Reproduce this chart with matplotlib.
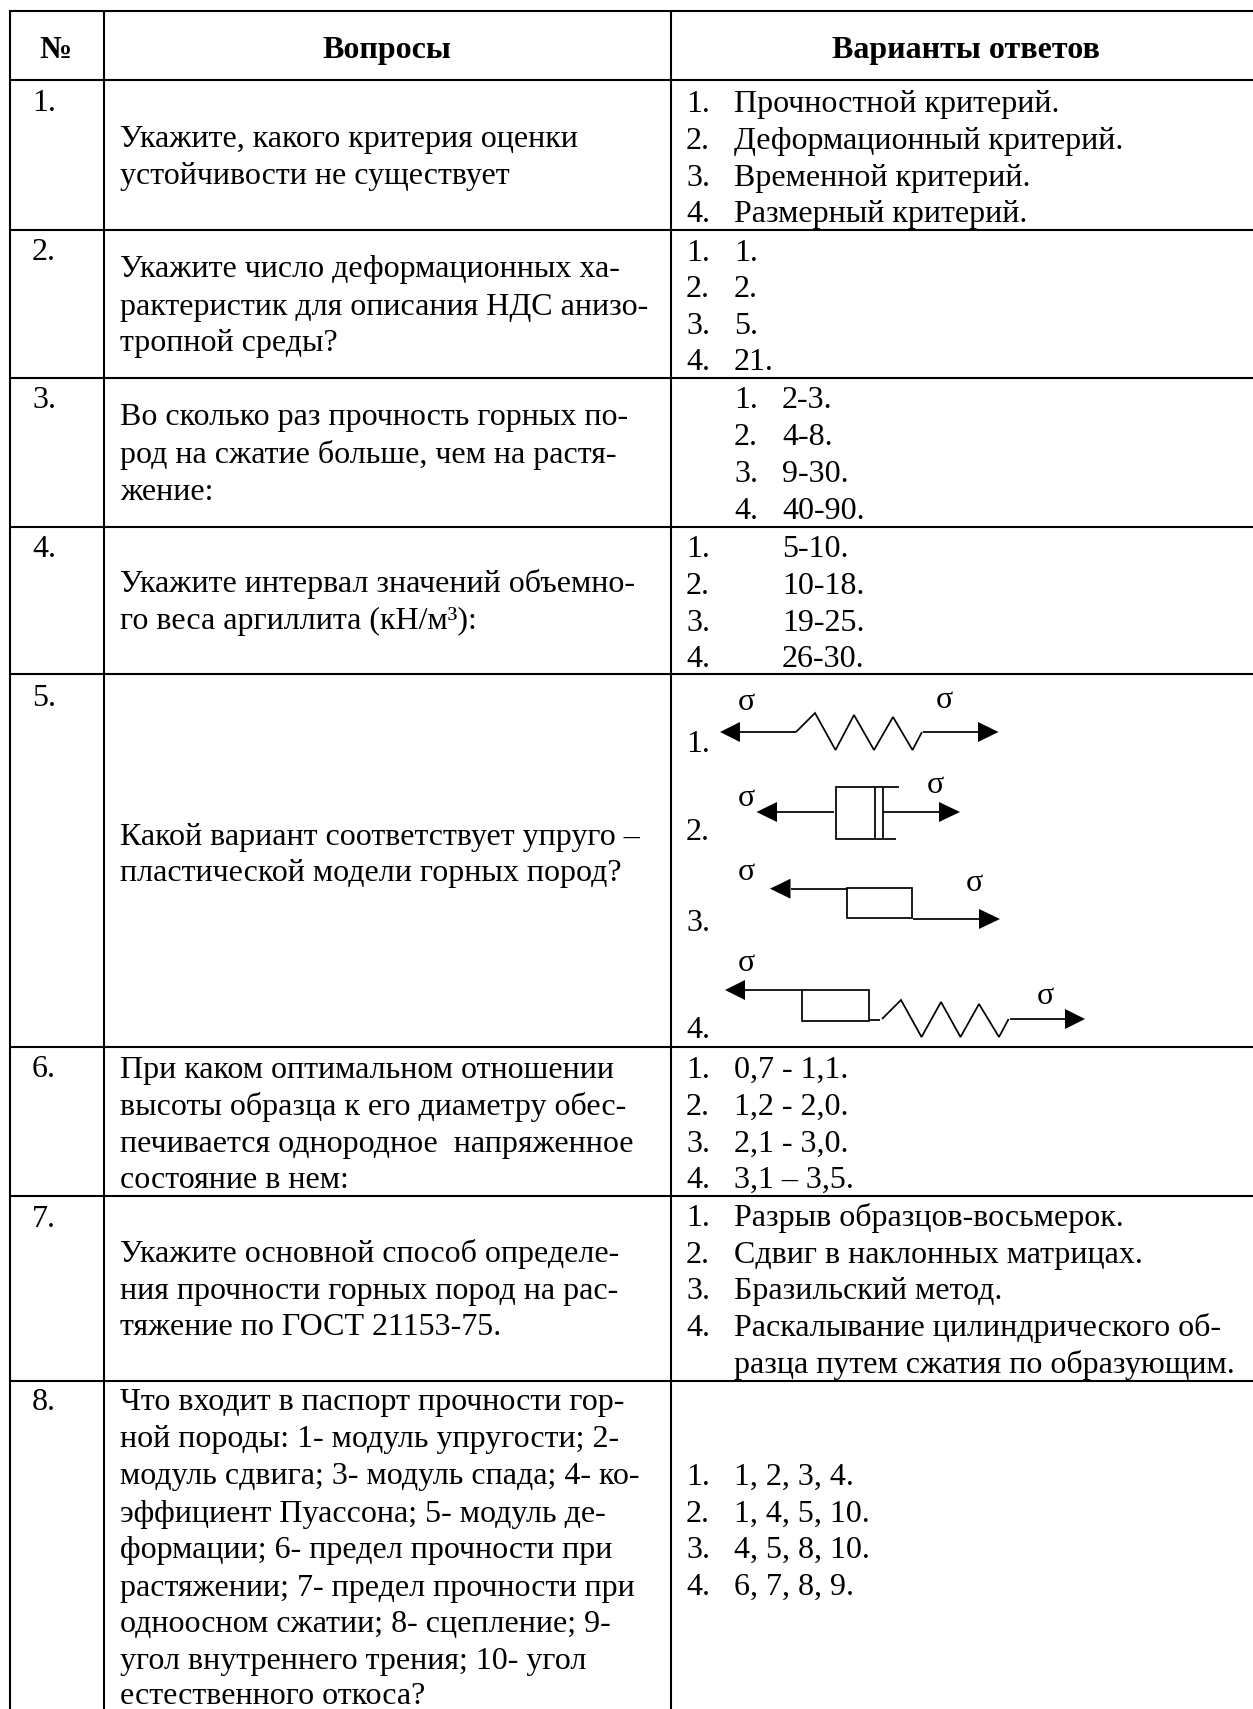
import matplotlib
matplotlib.use("Agg")
import matplotlib.pyplot as plt
from matplotlib.patches import Polygon, Rectangle

W, H = 1253, 1709
FS = 23
INK = "black"

# table grid, in pixels of the page
col_lines = [10, 104, 671]
row_lines = [11, 80, 230, 378, 527, 674, 1047, 1196, 1381]

headers = ["№", "Вопросы", "Варианты ответов"]
header_x = [55.5, 387, 966]

numbers = ["1.", "2.", "3.", "4.", "5.", "6.", "7.", "8."]
number_y = [111, 260, 408, 557, 706, 1077, 1227, 1410]

questions = [
    ["Укажите, какого критерия оценки", "устойчивости не существует"],
    ["Укажите число деформационных ха-", "рактеристик для описания НДС анизо-", "тропной среды?"],
    ["Во сколько раз прочность горных по-", "род на сжатие больше, чем на растя-", "жение:"],
    ["Укажите интервал значений объемно-", "го веса аргиллита (кН/м³):"],
    ["Какой вариант соответствует упруго –", "пластической модели горных пород?"],
    ["При каком оптимальном отношении", "высоты образца к его диаметру обес-", "печивается однородное  напряженное", "состояние в нем:"],
    ["Укажите основной способ определе-", "ния прочности горных пород на рас-", "тяжение по ГОСТ 21153-75."],
    ["Что входит в паспорт прочности гор-", "ной породы: 1- модуль упругости; 2-", "модуль сдвига; 3- модуль спада; 4- ко-",
     "эффициент Пуассона; 5- модуль де-", "формации; 6- предел прочности при", "растяжении; 7- предел прочности при",
     "одноосном сжатии; 8- сцепление; 9-", "угол внутреннего трения; 10- угол", "естественного откоса?"],
]
question_y = [
    [147, 184],
    [277, 315, 351],
    [425, 463, 500],
    [592, 629],
    [845, 881],
    [1078, 1115, 1152, 1188],
    [1262, 1299, 1335],
    [1410, 1447, 1484, 1522, 1558, 1596, 1632, 1669, 1704],
]

answers = {
    0: ["Прочностной критерий.", "Деформационный критерий.", "Временной критерий.", "Размерный критерий."],
    1: ["1.", "2.", "5.", "21."],
    2: ["2-3.", "4-8.", "9-30.", "40-90."],
    3: ["5-10.", "10-18.", "19-25.", "26-30."],
    5: ["0,7 - 1,1.", "1,2 - 2,0.", "2,1 - 3,0.", "3,1 – 3,5."],
    6: ["Разрыв образцов-восьмерок.", "Сдвиг в наклонных матрицах.", "Бразильский метод.",
        "Раскалывание цилиндрического об-", "разца путем сжатия по образующим."],
    7: ["1, 2, 3, 4.", "1, 4, 5, 10.", "4, 5, 8, 10.", "6, 7, 8, 9."],
}
answer_y = {
    0: [112, 149, 186, 222],
    1: [261, 297, 334, 370],
    2: [408, 445, 482, 519],
    3: [557, 594, 631, 667],
    5: [1078, 1115, 1152, 1188],
    6: [1226, 1263, 1299, 1336, 1373],
    7: [1485, 1522, 1558, 1595],
}
answer_num_x = {0: 686, 1: 686, 2: 734, 3: 686, 5: 686, 6: 686, 7: 686}
answer_text_x = {0: 734, 1: 734, 2: 782, 3: 782, 5: 734, 6: 734, 7: 734}

# pictures of row 5
sigma_labels = [(746, 710), (944, 708), (746, 806), (935, 793), (746, 880), (974, 891), (746, 971), (1045, 1004)]
diagram_nums = [("1.", 752), ("2.", 840), ("3.", 931), ("4.", 1038)]


def put(ax, x, y, s, **kw):
    ax.text(x, y, s, fontsize=kw.pop("fontsize", FS), va="baseline", color=INK, **kw)


def line(ax, xs, ys, lw=1.25):
    ax.plot(xs, ys, color="black", lw=lw, solid_capstyle="butt", solid_joinstyle="miter")


def arrow(ax, tip, base, y):
    ax.add_patch(Polygon([(tip, y), (base, y - 10), (base, y + 10)], closed=True, fc="black", ec="none"))


def draw_diagrams(ax):
    # 1: spring
    arrow(ax, 720, 740, 732)
    line(ax, [740, 796], [732, 732])
    line(ax, [796, 815, 835.5, 854, 874, 893, 912.5, 922], [732, 713, 750, 715, 750, 717, 750, 732])
    line(ax, [923, 978], [732, 732])
    arrow(ax, 998.5, 978, 732)

    # 2: dashpot
    arrow(ax, 756.5, 777, 812)
    line(ax, [777, 833.5], [812, 812])
    line(ax, [899, 836, 836, 896], [787, 787, 839, 839])
    line(ax, [875, 875], [787, 839])
    line(ax, [883, 883], [787, 839])
    line(ax, [883, 939], [812, 812])
    arrow(ax, 960, 939, 812)

    # 3: block
    arrow(ax, 770, 790.5, 888.7)
    line(ax, [790.5, 847], [888.7, 888.7])
    ax.add_patch(Rectangle((847, 888.3), 64.7, 29.4, fc="none", ec="black", lw=1.25))
    line(ax, [913, 979], [919, 919])
    arrow(ax, 1000, 979, 919)

    # 4: block + spring
    arrow(ax, 725, 745, 990)
    line(ax, [745, 802], [990, 990])
    ax.add_patch(Rectangle((802, 990), 66.7, 31, fc="none", ec="black", lw=1.25))
    line(ax, [868.7, 880], [1020.3, 1020.3])
    line(ax, [882, 901, 921.5, 941, 960.5, 979, 999, 1008.6], [1019, 1000, 1037, 1002, 1037, 1004, 1037, 1019])
    line(ax, [1009.5, 1065], [1019, 1019])
    arrow(ax, 1085, 1065, 1019)

    for x, y in sigma_labels:
        put(ax, x, y, "σ", ha="center")
    for s, y in diagram_nums:
        put(ax, 686, y, s)


def main():
    plt.rcParams["font.family"] = ["Liberation Serif", "DejaVu Serif"]
    fig = plt.figure(figsize=(W / 100, H / 100), dpi=100)
    ax = fig.add_axes([0, 0, 1, 1])
    ax.set_xlim(0, W)
    ax.set_ylim(H, 0)
    ax.axis("off")

    for y in row_lines:
        line(ax, [col_lines[0] - 1, W], [y, y], lw=1.5)
    for x in col_lines:
        line(ax, [x, x], [row_lines[0], H], lw=1.5)

    for x, s in zip(header_x, headers):
        put(ax, x, 58, s, ha="center", fontweight="bold")

    for s, y in zip(numbers, number_y):
        put(ax, 32, y, s)

    for lines, ys in zip(questions, question_y):
        for s, y in zip(lines, ys):
            put(ax, 120, y, s)

    for row, items in answers.items():
        ys = answer_y[row]
        k = 0
        for i, s in enumerate(items):
            # the last line of row 7 continues item 4, it has no number
            if not (row == 6 and i == 4):
                k += 1
                put(ax, answer_num_x[row], ys[i], f"{k}.")
            put(ax, answer_text_x[row], ys[i], s)

    draw_diagrams(ax)
    fig.savefig("out.png", dpi=100, facecolor="white")


if __name__ == "__main__":
    main()
